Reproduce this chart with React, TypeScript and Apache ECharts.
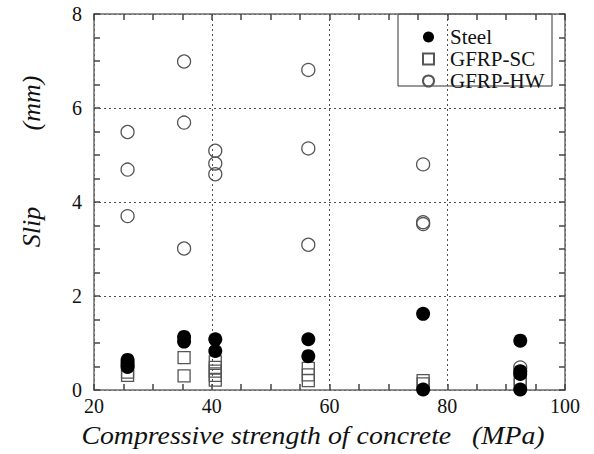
import React, { useEffect, useRef } from "react";
import * as echarts from "echarts";

const xMin = 20;
const xMax = 100;
const yMin = 0;
const yMax = 8;

const steel: [number, number][] = [
  [25.7, 0.64], [25.7, 0.58], [25.7, 0.53], [25.7, 0.49],
  [35.3, 1.13], [35.3, 1.03],
  [40.6, 1.08], [40.6, 0.83],
  [56.4, 1.08], [56.4, 0.72],
  [75.9, 1.62], [75.9, 0.01],
  [92.4, 1.05], [92.4, 0.4], [92.4, 0.34], [92.4, 0.01],
];

const gfrpSC: [number, number][] = [
  [25.7, 0.38], [25.7, 0.31],
  [35.3, 0.69], [35.3, 0.3],
  [40.6, 0.6], [40.6, 0.48], [40.6, 0.4], [40.6, 0.31], [40.6, 0.21],
  [56.4, 0.46], [56.4, 0.32], [56.4, 0.2],
  [75.9, 0.2], [75.9, 0.13],
  [92.4, 0.22], [92.4, 0.12],
];

const gfrpHW: [number, number][] = [
  [25.7, 5.49], [25.7, 4.69], [25.7, 3.7],
  [35.3, 6.99], [35.3, 5.69], [35.3, 3.01],
  [40.6, 5.09], [40.6, 4.82], [40.6, 4.59],
  [56.4, 6.81], [56.4, 5.14], [56.4, 3.09],
  [75.9, 4.8], [75.9, 3.57], [75.9, 3.53],
  [92.4, 0.48],
];

const seriesNames = ["Steel", "GFRP-SC", "GFRP-HW"];
const xTitle = "Compressive strength of concrete   (MPa)";
const yTitle = "Slip";
const yUnit = "(mm)";

const FONT = "Liberation Serif";
const AXIS_COLOR = "#6a6a6a";
const GRID_COLOR = "#505050";
const TICK_COLOR = "#444";

function makeTick() {
  return { show: true, inside: true, length: 6, lineStyle: { color: TICK_COLOR, width: 1.5 } };
}
function makeMinorTick() {
  return { show: true, splitNumber: 4, length: 6, lineStyle: { color: TICK_COLOR, width: 1.5 } };
}
function makeAxisLine() {
  return { show: true, onZero: false, lineStyle: { color: AXIS_COLOR, width: 1.5 } };
}

export default function App() {
  const ref = useRef<HTMLDivElement>(null);
  useEffect(() => {
    if (!ref.current) return;
    const chart = echarts.init(ref.current, undefined, { renderer: "svg" });
    const split = { show: true, lineStyle: { color: GRID_COLOR, type: [2, 3] as any, width: 1 } };
    const titleStyle = { fontFamily: FONT, fontStyle: "italic", fontSize: 26, fill: "#111", align: "center", verticalAlign: "middle" };
    chart.setOption({
      animation: false,
      backgroundColor: "#ffffff",
      grid: { left: 94, right: 29, top: 14, bottom: 64, containLabel: false },
      xAxis: [
        {
          type: "value", position: "bottom", min: xMin, max: xMax, interval: 20,
          axisLine: makeAxisLine(), axisTick: makeTick(), minorTick: makeMinorTick(), splitLine: split,
          axisLabel: { fontFamily: FONT, fontSize: 20, color: "#111", margin: 6 },
        },
        {
          type: "value", position: "top", min: xMin, max: xMax, interval: 20,
          axisLine: makeAxisLine(), axisTick: makeTick(), minorTick: makeMinorTick(), splitLine: { show: false }, axisLabel: { show: false },
        },
      ],
      yAxis: [
        {
          type: "value", position: "left", min: yMin, max: yMax, interval: 2,
          axisLine: makeAxisLine(), axisTick: makeTick(), minorTick: makeMinorTick(), splitLine: split,
          axisLabel: { fontFamily: FONT, fontSize: 20, color: "#111", margin: 12 },
        },
        {
          type: "value", position: "right", min: yMin, max: yMax, interval: 2,
          axisLine: makeAxisLine(), axisTick: makeTick(), minorTick: makeMinorTick(), splitLine: { show: false }, axisLabel: { show: false },
        },
      ],
      legend: {
        orient: "vertical",
        left: 417,
        top: 21,
        itemWidth: 11,
        itemHeight: 11,
        itemGap: 0,
        data: [seriesNames[0], seriesNames[1], seriesNames[2]],
        textStyle: { fontFamily: FONT, fontSize: 21, color: "#111", lineHeight: 22, padding: [0, 0, 0, 11] },
      },
      graphic: [
        {
          type: "rect",
          shape: { x: 398, y: 14, width: 154, height: 72 },
          style: { fill: "#fff", stroke: "#333", lineWidth: 1 },
        },
        {
          type: "text",
          x: 313, y: 435, scaleX: 1.07,
          style: { text: xTitle, ...titleStyle },
        },
        {
          type: "text",
          x: 31, y: 227, rotation: Math.PI / 2,
          style: { text: yTitle, ...titleStyle },
        },
        {
          type: "text",
          x: 31, y: 103, rotation: Math.PI / 2,
          style: { text: yUnit, ...titleStyle },
        },
      ],
      series: [
        {
          name: seriesNames[2], type: "scatter", data: gfrpHW, symbol: "circle", symbolSize: 13,
          itemStyle: { color: "rgba(255,255,255,0)", borderColor: "#555", borderWidth: 1.3, opacity: 1 },
        },
        {
          name: seriesNames[1], type: "scatter", data: gfrpSC, symbol: "rect", symbolSize: 12,
          itemStyle: { color: "rgba(255,255,255,0)", borderColor: "#555", borderWidth: 1.3, opacity: 1 },
        },
        {
          name: seriesNames[0], type: "scatter", data: steel, symbol: "circle", symbolSize: 14,
          itemStyle: { color: "#000", borderColor: "#000", borderWidth: 0, opacity: 1 },
        },
      ],
    });
    return () => chart.dispose();
  }, []);
  return <div ref={ref} style={{ position: "absolute", left: 0, top: 0, width: 594, height: 454 }} />;
}
